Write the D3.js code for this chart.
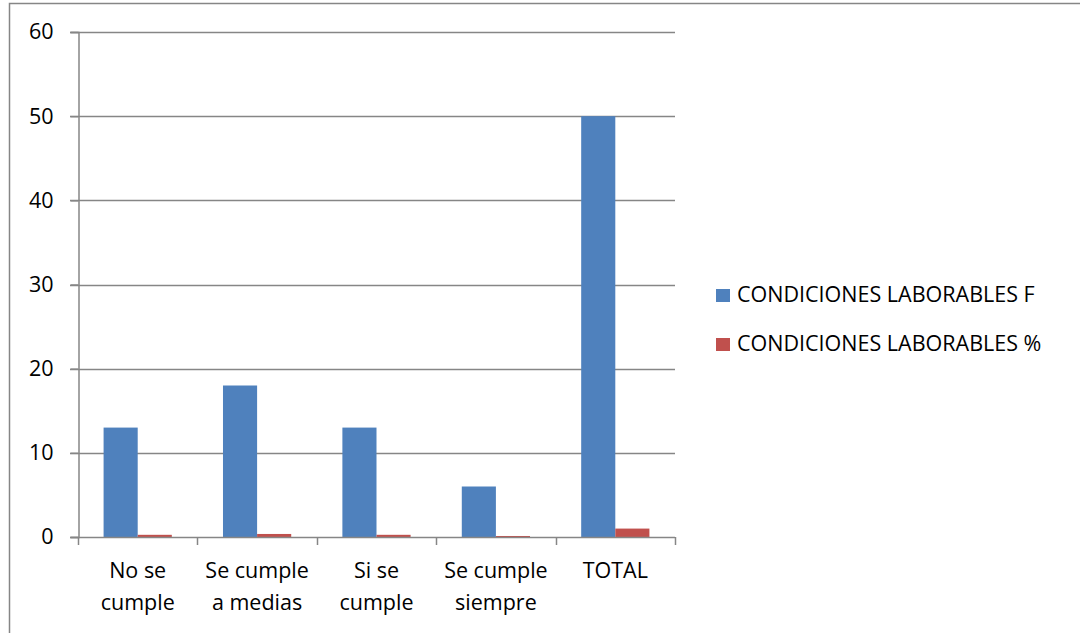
<!DOCTYPE html>
<html>
<head>
<meta charset="utf-8">
<script src="https://cdn.jsdelivr.net/npm/d3@7"></script>
<style>
  html, body { margin: 0; padding: 0; background: #fff; overflow: hidden; }
  svg { display: block; }
  text { font-family: "Open Sans", "Liberation Sans", sans-serif; fill: #000; }
</style>
</head>
<body>
<svg id="chart" width="1080" height="633"></svg>
<script>
// Categories (two-line labels) and series
const categories = ["No se|cumple", "Se cumple|a medias", "Si se|cumple", "Se cumple|siempre", "TOTAL"];
const seriesNames = ["CONDICIONES LABORABLES F", "CONDICIONES LABORABLES %"];
const valuesF = [13, 18, 13, 6, 50];
const valuesPct = [0.26, 0.36, 0.26, 0.12, 1.0];
const yTicks = [0, 10, 20, 30, 40, 50, 60];
const colors = ["#4F81BD", "#C0504D"];

const FONT = 21.5;
const svg = d3.select("#chart");
const W = 1080, H = 633;
const plot = { left: 78, right: 675, top: 32, bottom: 537 };

// outer frame (right and bottom edges run past the canvas)
svg.append("rect")
  .attr("x", 9.5).attr("y", 3.5)
  .attr("width", W + 20).attr("height", H + 20)
  .attr("fill", "#fff").attr("stroke", "#868686").attr("stroke-width", 1.5);

const x = d3.scaleBand().domain(d3.range(categories.length))
  .range([plot.left, plot.right]).paddingInner(0).paddingOuter(0);
const inner = d3.scaleBand().domain([0, 1]).range([0, x.bandwidth()])
  .paddingInner(0).paddingOuter(0.75);
const y = d3.scaleLinear().domain([0, 60]).range([plot.bottom, plot.top]);

// horizontal gridlines
svg.append("g").selectAll("line").data(yTicks.filter(t => t > 0)).join("line")
  .attr("x1", plot.left - 8).attr("x2", plot.right)
  .attr("y1", d => Math.round(y(d)) + 0.5).attr("y2", d => Math.round(y(d)) + 0.5)
  .attr("stroke", "#868686").attr("stroke-width", 1.5);

// bars
const series = [valuesF, valuesPct];
series.forEach((vals, si) => {
  svg.append("g").selectAll("rect").data(vals).join("rect")
    .attr("x", (d, i) => x(i) + inner(si))
    .attr("width", inner.bandwidth())
    .attr("y", d => y(d))
    .attr("height", d => y(0) - y(d))
    .attr("fill", colors[si]);
});

// y axis
const yAxis = d3.axisLeft(y).tickValues(yTicks).tickSize(8).tickPadding(17);
const gy = svg.append("g").attr("transform", `translate(${plot.left + 0.5},0)`).call(yAxis);
gy.select(".domain").attr("stroke", "#868686").attr("stroke-width", 1.5);
gy.selectAll(".tick line").attr("stroke", "#868686").attr("stroke-width", 1.5);
gy.selectAll(".tick text").attr("font-size", FONT).attr("font-family", "Open Sans, sans-serif").attr("fill", "#000");

// x axis
const xEdges = d3.range(categories.length + 1).map(i => plot.left + i * x.bandwidth());
const gx = svg.append("g");
gx.append("line").attr("x1", plot.left - 8).attr("x2", plot.right)
  .attr("y1", Math.round(y(0)) + 0.5).attr("y2", Math.round(y(0)) + 0.5)
  .attr("stroke", "#868686").attr("stroke-width", 1.5);
gx.selectAll("line.tk").data(xEdges).join("line").attr("class", "tk")
  .attr("x1", d => Math.round(d) + 0.5).attr("x2", d => Math.round(d) + 0.5)
  .attr("y1", y(0)).attr("y2", y(0) + 8)
  .attr("stroke", "#868686").attr("stroke-width", 1.5);

categories.forEach((c, i) => {
  const lines = c.split("|");
  const t = svg.append("text")
    .attr("x", x(i) + x.bandwidth() / 2)
    .attr("text-anchor", "middle").attr("font-size", FONT);
  lines.forEach((ln, k) => {
    t.append("tspan").attr("x", x(i) + x.bandwidth() / 2).attr("y", 578 + k * 32).text(ln);
  });
});

// legend
const lg = svg.append("g");
seriesNames.forEach((name, i) => {
  const yy = 302 + i * 49;
  lg.append("rect").attr("x", 716).attr("y", yy - 13).attr("width", 14).attr("height", 13).attr("fill", colors[i]);
  lg.append("text").attr("x", 737).attr("y", yy).attr("font-size", FONT).text(name);
});
</script>
</body>
</html>
